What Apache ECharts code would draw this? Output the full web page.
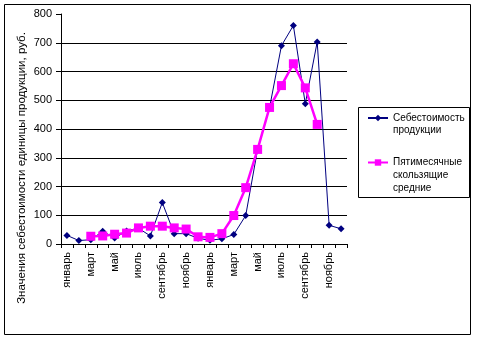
<!DOCTYPE html>
<html><head><meta charset="utf-8">
<script src="https://cdn.jsdelivr.net/npm/echarts@6/dist/echarts.min.js"></script>
<style>html,body{margin:0;padding:0;background:#fff}#c{width:477px;height:340px}</style>
</head><body><div id="c"></div>
<script>
var months = ['январь','февраль','март','апрель','май','июнь','июль','август','сентябрь','октябрь','ноябрь','декабрь',
              'январь','февраль','март','апрель','май','июнь','июль','август','сентябрь','октябрь','ноябрь','декабрь'];
var costValues = [30, 12, 15, 44, 21, 45, 55, 28, 144, 36, 36, 20, 13, 18, 33, 99, 330, 474, 690, 760, 488, 703, 65, 53];
var movingAvg = [null, null, 27, 28, 34, 38, 56, 62, 62, 56, 52, 25, 23, 36, 99, 196, 329, 475, 551, 627, 543, 416, null, null];
var costName = 'Себестоимость продукции';
var avgName = 'Пятимесячные скользящие средние';
var yTitle = 'Значения себестоимости единицы продукции, руб.';

var FONT = '"Liberation Sans", Arial, sans-serif';
var chart = echarts.init(document.getElementById('c'), null, {renderer: 'canvas'});
chart.setOption({
  backgroundColor: '#fff',
  animation: false,
  grid: {left: 61, right: 130, top: 14, bottom: 96, containLabel: false},
  xAxis: {
    type: 'category', data: months, boundaryGap: true,
    axisLine: {lineStyle: {color: '#000', width: 1}},
    axisTick: {show: true, interval: 0, length: 4, lineStyle: {color: '#000'}},
    axisLabel: {interval: 1, rotate: 90, margin: 8, color: '#000', fontSize: 11, fontFamily: FONT},
    splitLine: {show: false}
  },
  yAxis: {
    type: 'value', min: 0, max: 800, interval: 100,
    axisLine: {show: true, lineStyle: {color: '#000', width: 1}},
    axisTick: {show: true, length: 5, lineStyle: {color: '#000'}},
    axisLabel: {margin: 9, color: '#000', fontSize: 11, fontFamily: FONT},
    splitLine: {show: true, showMaxLine: false, lineStyle: {color: '#000', width: 1}}
  },
  legend: [
    {data: [costName], orient: 'vertical', left: 367, top: 99.25, padding: 0,
     itemWidth: 20, itemHeight: 8,
     formatter: function(){ return '\nСебестоимость\nпродукции'; },
     textStyle: {fontSize: 10, fontFamily: FONT, color: '#000', lineHeight: 12.5}},
    {data: [avgName], orient: 'vertical', left: 367, top: 130.5, padding: 0,
     itemWidth: 20, itemHeight: 8,
     formatter: function(){ return '\n\nПятимесячные\nскользящие\nсредние'; },
     textStyle: {fontSize: 10, fontFamily: FONT, color: '#000', lineHeight: 12.8}}
  ],
  graphic: [
    {type: 'rect', shape: {x: 4.5, y: 4.5, width: 466, height: 330}, style: {fill: 'none', stroke: '#000', lineWidth: 1}, silent: true},
    {type: 'rect', shape: {x: 358.5, y: 107.5, width: 111, height: 90}, style: {fill: 'none', stroke: '#000', lineWidth: 1}, silent: true},
    {type: 'text', x: 22, y: 168, rotation: Math.PI / 2,
     style: {text: yTitle, font: '11.5px ' + FONT, fill: '#000', align: 'center', verticalAlign: 'middle'}}
  ],
  series: [
    {name: costName, type: 'line', data: costValues, symbol: 'diamond', symbolSize: 7, showAllSymbol: true,
     lineStyle: {color: '#000080', width: 1}, itemStyle: {color: '#000080'}},
    {name: avgName, type: 'line', data: movingAvg, symbol: 'rect', symbolSize: 9, showAllSymbol: true,
     lineStyle: {color: '#FF00FF', width: 2.5}, itemStyle: {color: '#FF00FF'}}
  ]
});
</script></body></html>
